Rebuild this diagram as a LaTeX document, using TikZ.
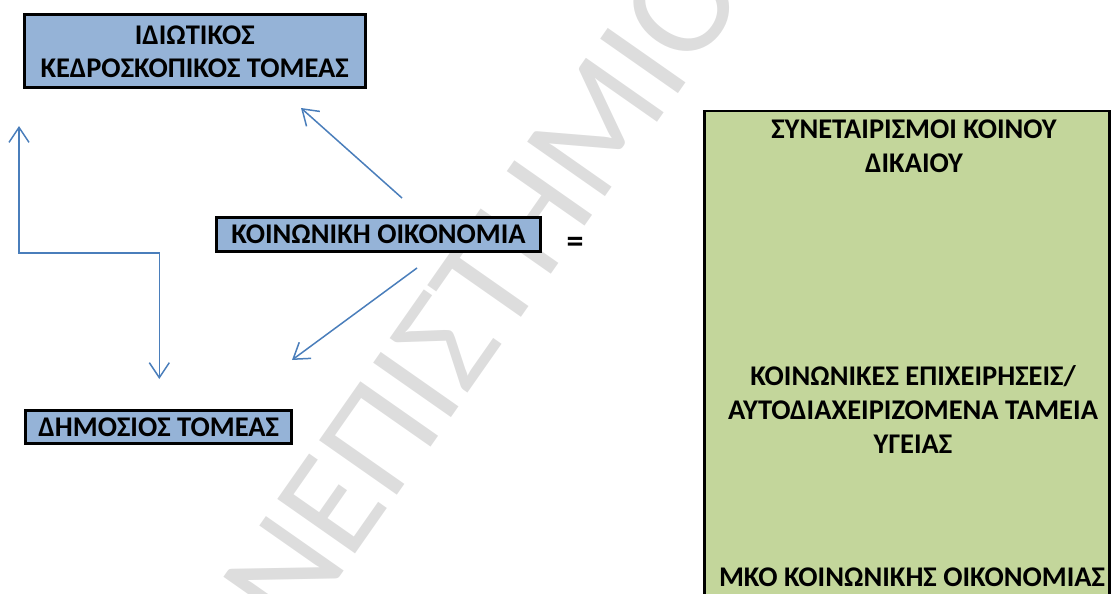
\documentclass[tikz,border=0pt]{standalone}
\usepackage{fontspec}
\setmainfont{Carlito}
\usetikzlibrary{arrows.meta,positioning}
\definecolor{boxblue}{HTML}{95B3D7}
\definecolor{boxgreen}{HTML}{C3D69B}
\definecolor{linkblue}{HTML}{4A7EBB}
\definecolor{markgray}{HTML}{DDDDDD}
\begin{document}
\begin{tikzpicture}
            [x = 1pt, y = -1pt,
             sector/.style = {draw, line width = 3pt, fill = boxblue, inner sep = 0pt, align = center,
                              font = \bfseries\fontsize{28.5}{33}\selectfont},
             list/.style = {align = center, font = \bfseries\fontsize{28.5}{34}\selectfont},
             link/.style = {draw = linkblue, line width = 1.5pt,
                            arrows = -{Straight Barb[length = 15pt, width = 20pt]}}]
            \useasboundingbox (0,0) rectangle (1111,594);
            \clip (0,0) rectangle (1111,594);
            % watermark
            \node[markgray, rotate = 55, font = \fontsize{148}{148}\selectfont] (mark) at (432,362) {ΠΑΝΕΠΙΣΤΗΜΙΟ};
            % sectors
            \node[sector, minimum width = 341pt, minimum height = 73pt] (priv) at (194.7,51.3) {ΙΔΙΩΤΙΚΟΣ\\ΚΕΔΡΟΣΚΟΠΙΚΟΣ ΤΟΜΕΑΣ};
            \node[sector, minimum width = 324pt, minimum height = 34pt] (soc) at (378.5,234.5) {ΚΟΙΝΩΝΙΚΗ ΟΙΚΟΝΟΜΙΑ};
            \node[sector, minimum width = 266pt, minimum height = 33pt] (pub) at (158.7,427) {ΔΗΜΟΣΙΟΣ ΤΟΜΕΑΣ};
            \node[font = \bfseries\fontsize{34}{34}\selectfont] (eq) at (575,245) {=};
            % the forms of the social economy
            \node[draw, line width = 2.5pt, fill = boxgreen, anchor = north, minimum width = 405pt, minimum height = 520pt] (forms) at (907,109.5) {};
            \node[list] (coop) at (914,146.5) {ΣΥΝΕΤΑΙΡΙΣΜΟΙ ΚΟΙΝΟΥ\\ΔΙΚΑΙΟΥ};
            \node[list] (firms) at (913,409.5) {ΚΟΙΝΩΝΙΚΕΣ ΕΠΙΧΕΙΡΗΣΕΙΣ/\\ΑΥΤΟΔΙΑΧΕΙΡΙΖΟΜΕΝΑ ΤΑΜΕΙΑ\\ΥΓΕΙΑΣ};
            \node[list] (ngo) at (912,577) {ΜΚΟ ΚΟΙΝΩΝΙΚΗΣ ΟΙΚΟΝΟΜΙΑΣ};
            % arrows
            \coordinate (up1) at (402,198);
            \coordinate (up2) at (301,108);
            \coordinate (dn1) at (417,268);
            \coordinate (dn2) at (292,360);
            \coordinate (lt) at (19,126);
            \coordinate (lb) at (19,253);
            \coordinate (rb) at (159.3,253);
            \coordinate (rt) at (159.3,379);
            \draw[link] (up1) -- (up2);
            \draw[link] (dn1) -- (dn2);
            \draw[link, arrows = {Straight Barb[length = 15pt, width = 20pt]}-{Straight Barb[length = 15pt, width = 20pt]}]
                (lt) -- (lb) -- (rb) -- (rt);
        \end{tikzpicture}
\end{document}
